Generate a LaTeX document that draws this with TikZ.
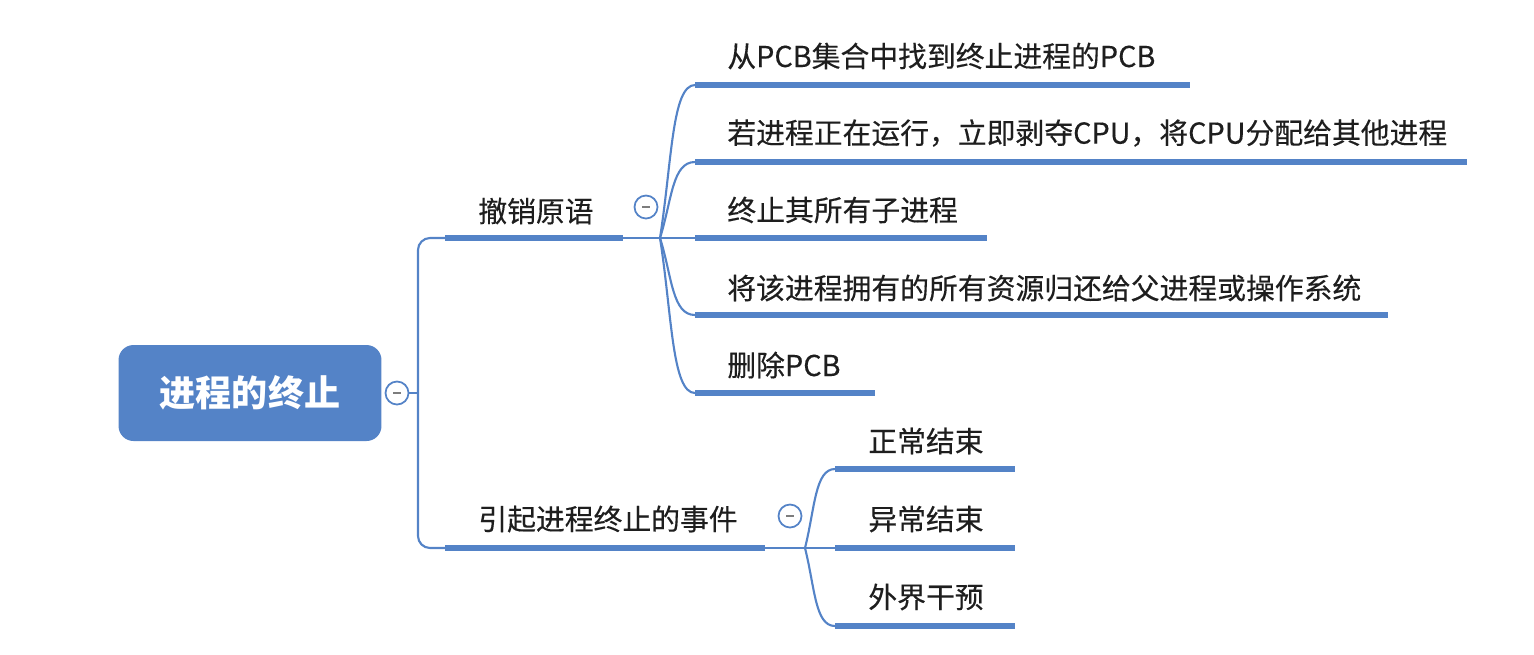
\documentclass[tikz,border=0pt]{standalone}
\usepackage{fontspec}
\setmainfont{Noto Sans CJK SC}
\newfontfamily\topicfont[FakeBold=0.3]{Noto Sans CJK SC}
\usetikzlibrary{calc}
\definecolor{mapblue}{RGB}{84,131,199}
\definecolor{inkdark}{RGB}{30,30,30}
\definecolor{foldgray}{RGB}{125,125,125}

\begin{document}
\begin{tikzpicture}[x=0.02cm,y=-0.02cm,
      rootbox/.style={fill=mapblue,rounded corners=0.3cm,
        minimum width=5.26cm,minimum height=1.92cm,
        text=white,font=\fontsize{20.5}{24}\selectfont\bfseries},
      topic/.style={anchor=west,inner sep=0pt,text=inkdark,
        font=\topicfont\fontsize{16.4}{19}\selectfont},
      fold/.style={circle,draw=mapblue,line width=1pt,fill=white,
        minimum size=0.46cm,inner sep=0pt,
        path picture={\draw[foldgray,line width=0.8pt]
          (-4,0)--(4,0);}},
      bar/.style={mapblue,line width=3.4pt},
      link/.style={mapblue,line width=1.2pt}
    ]
      \useasboundingbox (0,0) rectangle (1534,654);

      % root
      \node[rootbox](root) at (250,393){进程的终止};
      \node[fold](rootfold) at (397,393){};

      % first level
      \node[topic](prim) at (478,211){撤销原语};
      \node[topic](evt) at (478,519){引起进程终止的事件};
      \coordinate (prim-a) at (445,238);
      \coordinate (prim-b) at (623,238);
      \coordinate (evt-a) at (445,548);
      \coordinate (evt-b) at (765,548);
      \node[fold](primfold) at (646,207){};
      \node[fold](evtfold) at (790,516){};

      \draw[link](rootfold.east)--(418,393);
      \draw[link,rounded corners=0.24cm]
        (prim-a)--(418,238)--(418,548)--(evt-a);
      \draw[bar](prim-a)--(prim-b);
      \draw[bar](evt-a)--(evt-b);

      % children of 撤销原语
      \node[topic](p1) at (727,56){从PCB集合中找到终止进程的PCB};
      \node[topic](p2) at (727,133){若进程正在运行，立即剥夺CPU，将CPU分配给其他进程};
      \node[topic](p3) at (727,210){终止其所有子进程};
      \node[topic](p4) at (727,288){将该进程拥有的所有资源归还给父进程或操作系统};
      \node[topic](p5) at (727,365){删除PCB};
      \coordinate (pfork) at (660,238);
      \coordinate (p1-a) at (695,85);  \coordinate (p1-b) at (1190,85);
      \coordinate (p2-a) at (695,162); \coordinate (p2-b) at (1467,162);
      \coordinate (p3-a) at (695,238); \coordinate (p3-b) at (987,238);
      \coordinate (p4-a) at (695,315); \coordinate (p4-b) at (1388,315);
      \coordinate (p5-a) at (695,393); \coordinate (p5-b) at (875,393);

      \draw[link](prim-b)--(p3-a);
      \draw[link](pfork) .. controls +(12,-77) and +(-23,0) .. (p1-a);
      \draw[link](pfork) .. controls +(12,-38) and +(-23,0) .. (p2-a);
      \draw[link](pfork) .. controls +(12,38) and +(-23,0) .. (p4-a);
      \draw[link](pfork) .. controls +(12,77) and +(-23,0) .. (p5-a);
      \draw[bar](p1-a)--(p1-b);
      \draw[bar](p2-a)--(p2-b);
      \draw[bar](p3-a)--(p3-b);
      \draw[bar](p4-a)--(p4-b);
      \draw[bar](p5-a)--(p5-b);

      % children of 引起进程终止的事件
      \node[topic](e1) at (868,441){正常结束};
      \node[topic](e2) at (868,519){异常结束};
      \node[topic](e3) at (868,597){外界干预};
      \coordinate (efork) at (805,548);
      \coordinate (e1-a) at (835,469); \coordinate (e1-b) at (1015,469);
      \coordinate (e2-a) at (835,548); \coordinate (e2-b) at (1015,548);
      \coordinate (e3-a) at (835,626); \coordinate (e3-b) at (1015,626);

      \draw[link](evt-b)--(e2-a);
      \draw[link](efork) .. controls +(10,-40) and +(-20,0) .. (e1-a);
      \draw[link](efork) .. controls +(10,40) and +(-20,0) .. (e3-a);
      \draw[bar](e1-a)--(e1-b);
      \draw[bar](e2-a)--(e2-b);
      \draw[bar](e3-a)--(e3-b);
    \end{tikzpicture}
\end{document}
